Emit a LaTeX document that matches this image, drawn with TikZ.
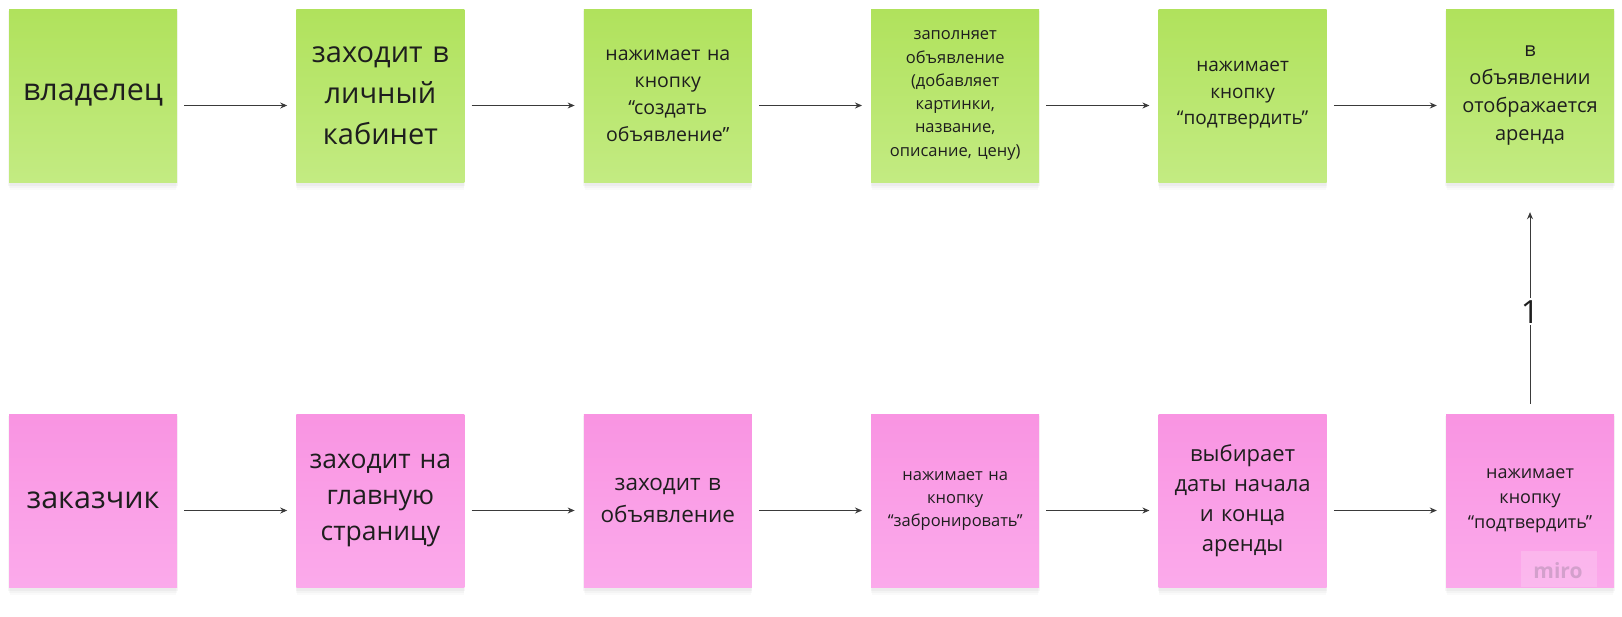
\documentclass[tikz,border=0pt]{standalone}
\usepackage{fontspec}
\setmainfont{Open Sans}
\usetikzlibrary{arrows.meta,shadows}
\definecolor{gtop}{HTML}{B0E25C}
\definecolor{gbot}{HTML}{C3EB82}
\definecolor{ptop}{HTML}{F994E2}
\definecolor{pbot}{HTML}{FBAAEB}
\definecolor{txt}{HTML}{1E1E1E}
\definecolor{arr}{HTML}{3A3A3A}
\definecolor{wm}{HTML}{D3A0CC}
\tikzset{
  card/.style={minimum width=168pt, minimum height=173pt, inner sep=0pt,
    text width=158pt, align=center, text=txt,
    general shadow={fill=black, opacity=0.02, shadow yshift=-9pt, shadow scale=0.99},
    general shadow={fill=black, opacity=0.025, shadow yshift=-6pt},
    general shadow={fill=black, opacity=0.03, shadow yshift=-3pt, shadow scale=1.008}},
  greencard/.style={card, top color=gtop, bottom color=gbot},
  pinkcard/.style={card, top color=ptop, bottom color=pbot},
  fs/.style 2 args={font={\fontsize{#1}{#2}\selectfont}},
  flow/.style={draw=arr, line width=0.9pt, -{Stealth[length=7pt,width=6pt]},
    shorten <=7pt, shorten >=9pt},
}
\begin{document}
\begin{tikzpicture}[x=1pt,y=1pt]
\useasboundingbox (0,0) rectangle (1622,-616);
% top row
\node[greencard, fs={30.5}{40}] (a1) at (93,-95.5) {владелец};
\node[greencard, fs={29}{41}] (a2) at (380.4,-95.5) {заходит в\\личный\\кабинет};
\node[greencard, fs={19.5}{27}] (a3) at (667.8,-95.5) {нажимает на\\кнопку\\“создать\\объявление”};
\node[greencard, fs={16.5}{23.3}] (a4) at (955.2,-95.5) {заполняет\\объявление\\(добавляет\\картинки,\\название,\\описание, цену)};
\node[greencard, fs={19}{26.5}] (a5) at (1242.6,-95.5) {нажимает\\кнопку\\“подтвердить”};
\node[greencard, fs={20}{28}] (a6) at (1530,-95.5) {в\\объявлении\\отображается\\аренда};
% bottom row
\node[pinkcard, fs={30.5}{40}] (b1) at (93,-500.5) {заказчик};
\node[pinkcard, fs={26.5}{36}] (b2) at (380.4,-500.5) {заходит на\\главную\\страницу};
\node[pinkcard, fs={22.5}{31.5}] (b3) at (667.8,-500.5) {заходит в\\объявление};
\node[pinkcard, fs={16.5}{23}] (b4) at (955.2,-500.5) {нажимает на\\кнопку\\“забронировать”};
\node[pinkcard, fs={22}{30}] (b5) at (1242.6,-500.5) {выбирает\\даты начала\\и конца\\аренды};
\node[pinkcard, fs={18}{25}] (b6) at (1530,-500.5) {нажимает\\кнопку\\“подтвердить”};
% watermark
\fill[white, opacity=0.18] (1521,-551) rectangle (1597,-587);
\node[text=wm, font={\fontsize{21}{21}\selectfont\bfseries}] (wmk) at (1558,-571) {miro};
% horizontal connectors
\foreach \i/\j in {1/2,2/3,3/4,4/5,5/6}{
  \draw[flow] ([yshift=-10pt]a\i.east) -- ([yshift=-10pt]a\j.west);
  \draw[flow] ([yshift=-10pt]b\i.east) -- ([yshift=-10pt]b\j.west);
}
% vertical connector
\draw[flow, shorten <=10pt, shorten >=30pt] (b6.north) -- node[fill=white, inner sep=2pt, pos=0.44, font={\fontsize{32}{32}\selectfont}, text=txt] (lbl) {1} (a6.south);
\end{tikzpicture}
\end{document}
